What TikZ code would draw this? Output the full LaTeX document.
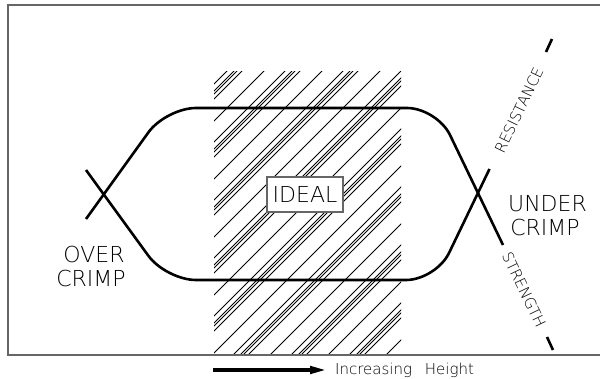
\documentclass[tikz,border=0pt]{standalone}
\usepackage{fontspec}
\newfontfamily\cad{DejaVu Sans ExtraLight}
\usetikzlibrary{arrows.meta}
\begin{document}
\begin{tikzpicture}[x=1pt,y=-1pt,
  curve/.style={line width=2.6pt,black},
  hatch/.style={line width=0.75pt,black},
  frameline/.style={line width=1.1pt,draw=black!60},
  lbl/.style={font=\cad\fontsize{22}{26}\selectfont, inner sep=0pt},
  small/.style={font=\cad\fontsize{15}{18}\selectfont, inner sep=0pt}]
\useasboundingbox (0,0) rectangle (600,379);
\fill[white] (0,0) rectangle (600,379);
% hatching
\begin{scope}
\clip (214,72) rectangle (401,355);
\foreach \b in {240,298,...,762} {
  \foreach \o in {0,7,10,15,37} {
    \pgfmathsetmacro\c{\b+\o}
    \draw[hatch] (\c-360,360) -- (\c-60,60);
  }
}
\end{scope}
% frame
\draw[frameline] (605,5) -- (8,5) -- (8,355) -- (605,355);
% ideal box
\node[lbl, draw=black!60, line width=1.1pt, fill=white, minimum width=76pt, minimum height=35pt] (ideal) at (305,194.5) {IDEAL};
% curves
\draw[curve, rounded corners=30pt] (86,219) -- (166,108) -- (437,108) -- (503,245);
\draw[curve, rounded corners=30pt] (86,170) -- (166,280) -- (436,280) -- (489.5,169);
\draw[curve] (546,52) -- (552,39);
\draw[curve] (547,337) -- (553,350);
% labels
\node[lbl, anchor=base] (under) at (547.5,212) {UNDER};
\node[lbl, anchor=base] (ucrimp) at (545,236) {CRIMP};
\node[lbl, anchor=base] (over) at (94,263) {OVER};
\node[lbl, anchor=base] (ocrimp) at (91,287) {CRIMP};
\node[small, rotate=64.4] (res) at (519,110) {RESISTANCE};
\node[small, rotate=-64.4] (str) at (524,290) {STRENGTH};
% arrow
\coordinate (a0) at (213,370);
\coordinate (a1) at (328,370);
\draw[line width=4pt, -{Triangle[length=18pt,width=7pt]}] (a0) -- (a1);
\node[small, anchor=base west] (inc) at (335,375) {Increasing\hspace{8pt} Height};
\end{tikzpicture}
\end{document}
